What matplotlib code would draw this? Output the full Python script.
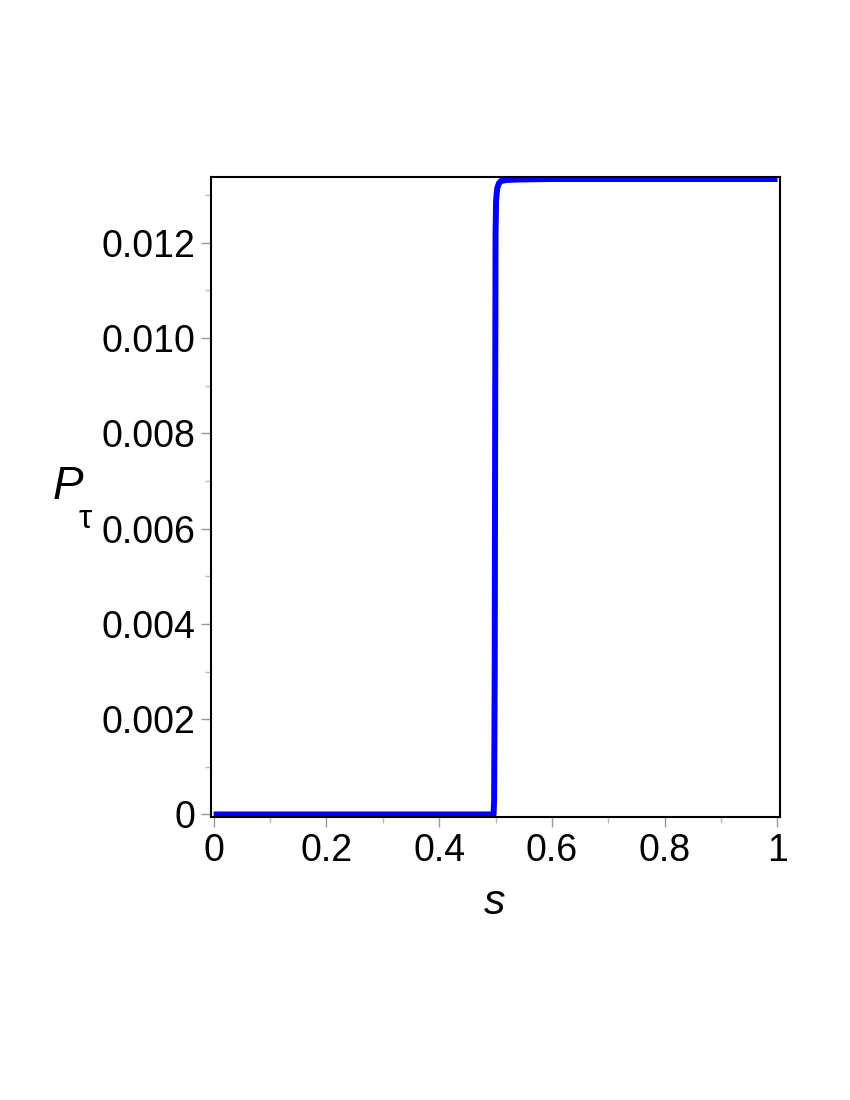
import matplotlib
matplotlib.use("Agg")
import matplotlib.pyplot as plt
from matplotlib.ticker import FuncFormatter, MultipleLocator

# curve
s_vals = [0.0, 0.2, 0.4, 0.4965, 0.4975, 0.4985, 0.4993, 0.5, 0.501, 0.503, 0.506,
          0.51, 0.52, 0.54, 0.6, 0.8, 1.0]
p_vals = [0.0, 0.0, 0.0, 0.0, 0.0003, 0.003, 0.008, 0.0122, 0.0129, 0.01315, 0.01325,
          0.0133, 0.01332, 0.01333, 0.01334, 0.01334, 0.01334]

x_ticks = [0, 0.2, 0.4, 0.6, 0.8, 1]
y_ticks = [0, 0.002, 0.004, 0.006, 0.008, 0.010, 0.012]

plt.rcParams['font.family'] = ['Liberation Sans', 'DejaVu Sans']

fig = plt.figure(figsize=(8.5, 11), dpi=100)
ax = fig.add_axes([0.248, 0.257, 0.670, 0.582])

ax.plot(s_vals, p_vals, color='#0000ff', lw=4.3, solid_capstyle='butt', solid_joinstyle='round')

ax.set_xlim(-0.005, 1.005)
ax.set_ylim(-0.00006, 0.01338)
ax.set_xticks(x_ticks)
ax.set_yticks(y_ticks)
ax.xaxis.set_minor_locator(MultipleLocator(0.1))
ax.yaxis.set_minor_locator(MultipleLocator(0.001))
ax.xaxis.set_major_formatter(FuncFormatter(lambda v, p: '0' if v == 0 else ('1' if v == 1 else f'{v:.1f}')))
ax.yaxis.set_major_formatter(FuncFormatter(lambda v, p: '0' if abs(v) < 1e-12 else f'{v:.3f}'))
ax.tick_params(which='major', direction='out', length=7, width=1, color='#999999',
               labelsize=27, pad=4)
ax.tick_params(which='minor', direction='out', length=4, width=1, color='#bbbbbb')
for sp in ax.spines.values():
    sp.set_linewidth(1.5)

fig.text(495 / 850, 1 - 903 / 1100, 's', fontsize=31, style='italic', ha='center', va='center')
fig.text(68 / 850, 1 - 487 / 1100, 'P', fontsize=33, style='italic', ha='center', va='center')
fig.text(85 / 850, 1 - 519 / 1100, 'τ', fontsize=24, ha='center', va='center')

fig.savefig('out.png', dpi=100)
